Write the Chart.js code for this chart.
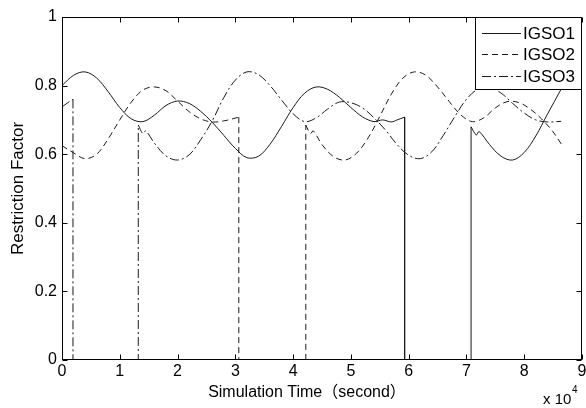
<!DOCTYPE html>
<html>
<head>
<meta charset="utf-8">
<script src="https://cdn.jsdelivr.net/npm/chart.js@4.4.1/dist/chart.umd.min.js"></script>
<style>
  html, body { margin: 0; padding: 0; background: #fff; }
  canvas { display: block; }
</style>
</head>
<body>
<canvas id="restriction" width="586" height="408"></canvas>
<script>
// time in units of 10^4 s, restriction factor 0..1
var seriesNames = ['IGSO1', 'IGSO2', 'IGSO3'];

var igso1Time   = [0, 0.2, 0.4, 0.6, 0.8, 1.0, 1.2, 1.4, 1.6, 1.8, 2.0, 2.2, 2.4, 2.6, 2.8, 3.0, 3.2, 3.4, 3.6, 3.8, 4.0, 4.2, 4.4, 4.6, 4.8, 5.0, 5.2, 5.4, 5.55, 5.7, 5.8, 5.93, 6.5, 7.08, 7.17, 7.22, 7.4, 7.6, 7.8, 8.0, 8.2, 8.4, 8.64];
var igso1Factor = [0.800, 0.830, 0.840, 0.822, 0.782, 0.736, 0.703, 0.695, 0.714, 0.742, 0.755, 0.748, 0.725, 0.693, 0.655, 0.617, 0.590, 0.594, 0.629, 0.681, 0.736, 0.778, 0.796, 0.789, 0.766, 0.736, 0.709, 0.695, 0.700, 0.694, 0.700, 0.708, null, 0.680, 0.656, 0.666, 0.628, 0.594, 0.583, 0.605, 0.653, 0.716, 0.790];
var igso1DropTime   = [5.93, 5.93, 7.08, 7.08];
var igso1DropFactor = [0.708, 0, 0, 0.680];

var igso2Time   = [0, 0.2, 0.4, 0.6, 0.8, 1.0, 1.2, 1.4, 1.6, 1.8, 2.0, 2.2, 2.4, 2.6, 2.8, 3.06, 3.6, 4.22, 4.3, 4.35, 4.5, 4.7, 4.9, 5.1, 5.3, 5.5, 5.7, 5.9, 6.1, 6.3, 6.5, 6.7, 6.9, 7.1, 7.3, 7.5, 7.7, 7.9, 8.1, 8.3, 8.5, 8.64];
var igso2Factor = [0.625, 0.604, 0.587, 0.600, 0.645, 0.700, 0.752, 0.787, 0.796, 0.785, 0.755, 0.724, 0.703, 0.694, 0.697, 0.708, null, 0.685, 0.660, 0.668, 0.628, 0.593, 0.583, 0.603, 0.648, 0.710, 0.775, 0.822, 0.840, 0.830, 0.796, 0.754, 0.715, 0.695, 0.706, 0.735, 0.753, 0.751, 0.732, 0.703, 0.665, 0.630];
var igso2DropTime   = [3.06, 3.06, 4.22, 4.22];
var igso2DropFactor = [0.708, 0, 0, 0.685];

var igso3Time   = [0, 0.1, 0.19, 0.5, 1.32, 1.4, 1.45, 1.6, 1.8, 2.0, 2.2, 2.4, 2.6, 2.8, 3.0, 3.2, 3.4, 3.6, 3.8, 4.0, 4.2, 4.4, 4.6, 4.8, 5.0, 5.2, 5.4, 5.6, 5.8, 6.0, 6.2, 6.4, 6.6, 6.8, 7.0, 7.2, 7.4, 7.6, 7.8, 8.0, 8.2, 8.4, 8.64];
var igso3Factor = [0.738, 0.750, 0.760, null, 0.685, 0.660, 0.668, 0.632, 0.595, 0.583, 0.598, 0.642, 0.697, 0.765, 0.816, 0.840, 0.832, 0.800, 0.758, 0.718, 0.695, 0.706, 0.732, 0.752, 0.750, 0.735, 0.706, 0.670, 0.628, 0.597, 0.587, 0.607, 0.655, 0.710, 0.760, 0.790, 0.795, 0.778, 0.748, 0.720, 0.700, 0.694, 0.696];
var igso3DropTime   = [0.19, 0.19, 1.32, 1.32];
var igso3DropFactor = [0.760, 0, 0, 0.685];

var xTicks = [0, 1, 2, 3, 4, 5, 6, 7, 8, 9];
var xTickLabels = ['0', '1', '2', '3', '4', '5', '6', '7', '8', '9'];
var yTicks = [0, 0.2, 0.4, 0.6, 0.8, 1];
var yTickLabels = ['0', '0.2', '0.4', '0.6', '0.8', '1'];
var xTitle = 'Simulation Time（second）';

var FONT = '"Liberation Sans", Arial, "Noto Sans CJK SC", sans-serif';
var lineColor = '#1a1a1a';
var dashes = [[], [6, 4], [9, 3, 2, 3]];

function toPoints(ts, vs) {
  return ts.map(function (t, i) { return { x: t, y: vs[i] }; });
}

function curve(name, ts, vs, k, smooth) {
  return {
    label: name,
    data: toPoints(ts, vs),
    borderColor: lineColor,
    borderWidth: 1,
    borderDash: dashes[k],
    pointRadius: 0,
    tension: smooth ? 0.35 : 0,
    spanGaps: false,
    fill: false
  };
}

// MATLAB-like box, inward ticks, legend, x label and exponent
var frame = {
  id: 'frame',
  afterDatasetsDraw: function (chart) {
    var ctx = chart.ctx, a = chart.chartArea;
    var xs = chart.scales.x, ys = chart.scales.y;
    var L = Math.round(a.left) + 0.5, R = Math.round(a.right) - 0.5;
    var T = Math.round(a.top) + 0.5, B = Math.round(a.bottom) - 0.5;
    ctx.save();
    ctx.strokeStyle = '#000';
    ctx.lineWidth = 1;
    ctx.setLineDash([]);
    ctx.beginPath();
    xTicks.forEach(function (v) {
      var px = Math.round(xs.getPixelForValue(v)) + 0.5;
      ctx.moveTo(px, B); ctx.lineTo(px, B - 5);
      ctx.moveTo(px, T); ctx.lineTo(px, T + 5);
    });
    yTicks.forEach(function (v) {
      var py = Math.round(ys.getPixelForValue(v)) + 0.5;
      ctx.moveTo(L, py); ctx.lineTo(L + 5, py);
      ctx.moveTo(R, py); ctx.lineTo(R - 5, py);
    });
    ctx.stroke();
    ctx.strokeRect(L, T, R - L, B - T);

    // legend box in the top right corner
    var lx = 475.5, lw = R - lx, lh = 72;
    ctx.fillStyle = '#fff';
    ctx.fillRect(lx, T, lw, lh);
    ctx.strokeRect(lx, T, lw, lh);
    ctx.font = '17px ' + FONT;
    ctx.fillStyle = '#000';
    ctx.textBaseline = 'middle';
    ctx.textAlign = 'left';
    seriesNames.forEach(function (name, i) {
      var cy = Math.round(T + 15 + i * 21.5) + 0.5;
      ctx.strokeStyle = lineColor;
      ctx.setLineDash(dashes[i]);
      ctx.beginPath();
      ctx.moveTo(482, cy); ctx.lineTo(521, cy);
      ctx.stroke();
      ctx.fillText(name, 523, cy + 1);
    });
    ctx.setLineDash([]);

    // x axis label
    ctx.font = '16px ' + FONT;
    ctx.textAlign = 'center';
    ctx.fillText(xTitle, 307, 393);

    // x 10^4
    ctx.textAlign = 'left';
    ctx.textBaseline = 'alphabetic';
    ctx.font = '15px ' + FONT;
    ctx.fillText('x 10', 543, 404);
    ctx.font = '10px ' + FONT;
    ctx.fillText('4', 572, 393);
    ctx.restore();
  }
};

var ctx = document.getElementById('restriction').getContext('2d');
var chart = new Chart(ctx, {
  type: 'line',
  data: {
    datasets: [
      curve('IGSO1', igso1Time, igso1Factor, 0, true),
      curve('IGSO2', igso2Time, igso2Factor, 1, true),
      curve('IGSO3', igso3Time, igso3Factor, 2, true),
      curve('IGSO1 outage', igso1DropTime, igso1DropFactor, 0, false),
      curve('IGSO2 outage', igso2DropTime, igso2DropFactor, 1, false),
      curve('IGSO3 outage', igso3DropTime, igso3DropFactor, 2, false)
    ]
  },
  options: {
    responsive: false,
    animation: false,
    layout: { padding: { top: 17, right: 4, left: 0, bottom: 0 } },
    plugins: {
      legend: { display: false },
      tooltip: { enabled: false }
    },
    scales: {
      x: {
        type: 'linear',
        min: 0,
        max: 9,
        grid: { display: false, drawTicks: false },
        border: { display: false },
        afterBuildTicks: function (s) { s.ticks = xTicks.map(function (v) { return { value: v }; }); },
        afterFit: function (s) { s.height = 48; s.paddingLeft = 0; s.paddingRight = 0; },
        ticks: {
          autoSkip: false,
          maxRotation: 0,
          padding: 2,
          color: '#000',
          font: { family: FONT, size: 16 },
          callback: function (v, i) { return xTickLabels[i]; }
        }
      },
      y: {
        min: 0,
        max: 1,
        grid: { display: false, drawTicks: false },
        border: { display: false },
        afterBuildTicks: function (s) { s.ticks = yTicks.map(function (v) { return { value: v }; }); },
        afterFit: function (s) { s.width = 62; },
        ticks: {
          padding: 5,
          color: '#000',
          font: { family: FONT, size: 16 },
          callback: function (v, i) { return yTickLabels[i]; }
        },
        title: {
          display: true,
          text: 'Restriction Factor',
          color: '#000',
          font: { family: FONT, size: 17 },
          padding: { top: 8, bottom: 0 }
        }
      }
    }
  },
  plugins: [frame]
});
</script>
</body>
</html>
